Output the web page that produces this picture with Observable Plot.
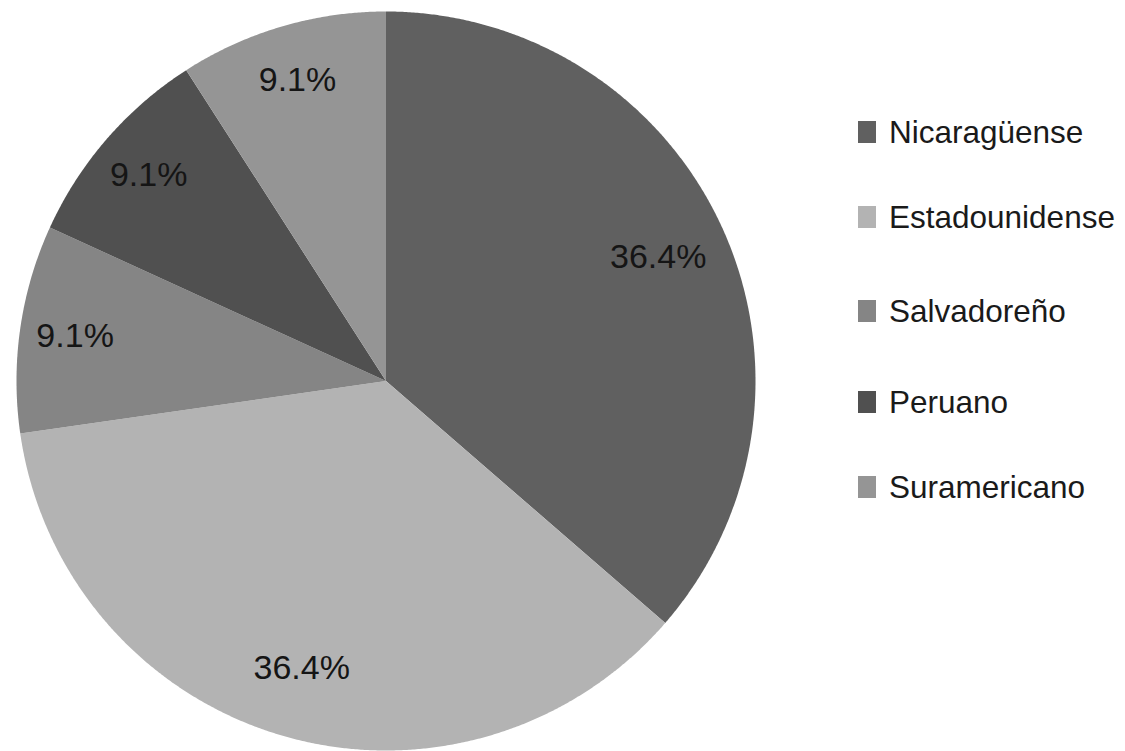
<!DOCTYPE html>
<html>
<head>
<meta charset="utf-8">
<script src="https://cdn.jsdelivr.net/npm/d3@7"></script>
<script src="https://cdn.jsdelivr.net/npm/@observablehq/plot@0.6"></script>
<style>
  html, body { margin: 0; padding: 0; background: #fff; }
  #wrap { position: relative; width: 1125px; height: 751px; overflow: hidden; }
  #legend { position: absolute; left: 858px; top: 0; font-family: "Liberation Sans", Arial, sans-serif; font-size: 31.5px; color: #1a1a1a; }
  .item { position: absolute; left: 0; white-space: nowrap; display: flex; align-items: center; height: 30px; }
  .sw { width: 18px; height: 22px; margin-right: 13px; display: inline-block; }
</style>
</head>
<body>
<div id="wrap"><div id="chart"></div><div id="legend"></div></div>
<script>
const categories = ["Nicaragüense", "Estadounidense", "Salvadoreño", "Peruano", "Suramericano"];
const counts = [4, 4, 1, 1, 1];
const labels = ["36.4%", "36.4%", "9.1%", "9.1%", "9.1%"];
const colors = ["#606060", "#b3b3b3", "#858585", "#505050", "#959595"];

const rows = categories.map((c, i) => ({cat: c, value: counts[i], label: labels[i]}));
const arcs = d3.pie().sort(null).value(d => d.value)(rows);

// polygon points for each slice, unit radius, from pie angles
const pts = [];
for (const a of arcs) {
  const n = Math.max(2, Math.ceil((a.endAngle - a.startAngle) / 0.005));
  pts.push({cat: a.data.cat, x: 0, y: 0});
  for (let k = 0; k <= n; k++) {
    const t = a.startAngle + (a.endAngle - a.startAngle) * k / n;
    pts.push({cat: a.data.cat, x: Math.sin(t), y: Math.cos(t)});
  }
  pts.push({cat: a.data.cat, x: 0, y: 0});
}
// label radius: slightly further out for narrow slices
const labelPts = arcs.map(a => {
  const m = (a.startAngle + a.endAngle) / 2;
  const r = (a.endAngle - a.startAngle) > 1 ? 0.81 : 0.85;
  return {label: a.data.label, x: r * Math.sin(m), y: r * Math.cos(m)};
});

const W = 1125, H = 751, cx = 385.5, cy = 380.5, R = 369.5;
const chart = Plot.plot({
  width: W, height: H,
  margin: 0,
  x: {domain: [-cx / R, (W - cx) / R], range: [0, W], axis: null},
  y: {domain: [-(H - cy) / R, cy / R], range: [H, 0], axis: null},
  color: {domain: categories, range: colors},
  style: {background: "#fff"},
  marks: [
    Plot.line(pts, {x: "x", y: "y", z: "cat", fill: "cat", stroke: "none", curve: "linear"}),
    Plot.text(labelPts, {x: "x", y: "y", text: "label", fill: "#151515", fontSize: 34, fontFamily: "Liberation Sans, Arial, sans-serif"})
  ]
});
document.getElementById("chart").appendChild(chart);

const legendTops = [117, 202, 296, 387, 472];
const lg = document.getElementById("legend");
categories.forEach((c, i) => {
  const it = document.createElement("div");
  it.className = "item";
  it.style.top = legendTops[i] + "px";
  it.innerHTML = `<span class="sw" style="background:${colors[i]}"></span><span>${c}</span>`;
  lg.appendChild(it);
});
</script>
</body>
</html>
